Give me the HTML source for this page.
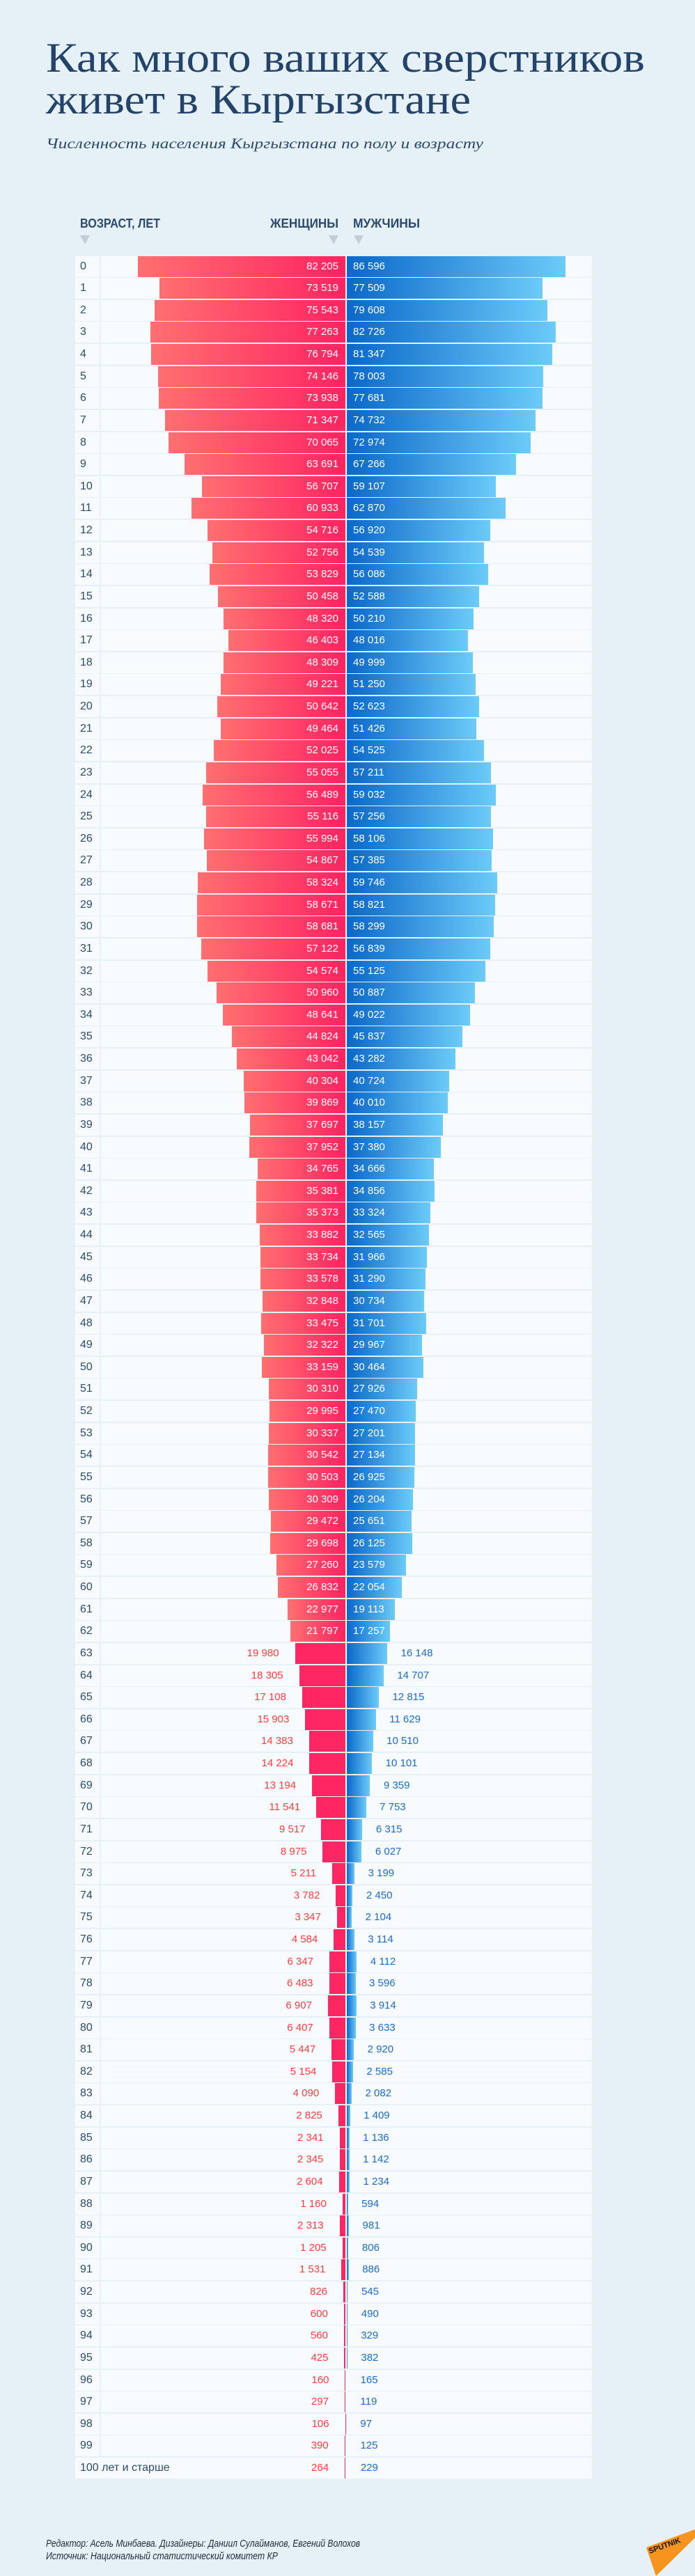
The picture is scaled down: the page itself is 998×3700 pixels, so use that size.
<!DOCTYPE html>
<html><head><meta charset="utf-8"><style>
*{margin:0;padding:0;box-sizing:border-box}
body{width:998px;height:3700px;background:#e6f0f7;position:relative;overflow:hidden;font-family:"Liberation Sans","DejaVu Sans",sans-serif}
svg.h{position:absolute;left:0;top:0}
#rows{position:absolute;left:108px;top:367.5px;width:742px}
.r{position:relative;height:30px;background:#f7fbfe;margin-bottom:1.64px}
.r::before{content:"";position:absolute;left:35px;top:0;bottom:0;width:2px;background:#e8f1f8}
.a{position:absolute;left:7px;top:0;line-height:30px;font-size:16px;color:#2b4a6e;white-space:nowrap}
.fb,.mb{position:absolute;top:0;bottom:0}
.fb{right:354px;width:calc(var(--f)*0.003627px);background:linear-gradient(90deg,#ff6f70,#ff2462)}
.mb{left:389.5px;width:calc(var(--m)*0.003627px);background:linear-gradient(90deg,#0a68c9,#6ccbf8)}
.o .fb{background:#ff2763}
.fl,.ml{position:absolute;top:0;line-height:30px;font-size:15px;font-weight:normal;white-space:nowrap;color:#fff}
.fl{right:364px}
.ml{left:399px}
.o .fl{right:calc(377px + var(--f)*0.003627px);color:#ff3b3b}
.o .ml{left:calc(409px + var(--m)*0.003627px);color:#1a6bcc}
</style></head><body>
<svg class="h" width="998" height="360">
<text x="66" y="103" font-family="Liberation Serif,serif" font-size="60" fill="#23436b" textLength="860" lengthAdjust="spacingAndGlyphs">Как много ваших сверстников</text>
<text x="66" y="163" font-family="Liberation Serif,serif" font-size="60" fill="#23436b" textLength="610" lengthAdjust="spacingAndGlyphs">живет в Кыргызстане</text>
<text x="66" y="213" font-family="Liberation Serif,serif" font-style="italic" font-size="21" fill="#2b4a6e" textLength="628" lengthAdjust="spacingAndGlyphs">Численность населения Кыргызстана по полу и возрасту</text>
<text x="115" y="327" font-family="Liberation Sans,sans-serif" font-weight="bold" font-size="18" fill="#2b4a6e" textLength="115" lengthAdjust="spacingAndGlyphs">ВОЗРАСТ, ЛЕТ</text>
<text x="388" y="327" font-family="Liberation Sans,sans-serif" font-weight="bold" font-size="18" fill="#2b4a6e" textLength="98" lengthAdjust="spacingAndGlyphs">ЖЕНЩИНЫ</text>
<text x="507" y="327" font-family="Liberation Sans,sans-serif" font-weight="bold" font-size="18" fill="#2b4a6e" textLength="96" lengthAdjust="spacingAndGlyphs">МУЖЧИНЫ</text>
<polygon points="115,338 129,338 122,351" fill="#c3ceda"/>
<polygon points="472,338 486,338 479,351" fill="#c3ceda"/>
<polygon points="508,338 522,338 515,351" fill="#c3ceda"/>
</svg>
<div id="rows">
<div class="r" style="--f:82205;--m:86596"><span class="a">0</span><i class="fb"></i><i class="mb"></i><b class="fl">82 205</b><b class="ml">86 596</b></div>
<div class="r" style="--f:73519;--m:77509"><span class="a">1</span><i class="fb"></i><i class="mb"></i><b class="fl">73 519</b><b class="ml">77 509</b></div>
<div class="r" style="--f:75543;--m:79608"><span class="a">2</span><i class="fb"></i><i class="mb"></i><b class="fl">75 543</b><b class="ml">79 608</b></div>
<div class="r" style="--f:77263;--m:82726"><span class="a">3</span><i class="fb"></i><i class="mb"></i><b class="fl">77 263</b><b class="ml">82 726</b></div>
<div class="r" style="--f:76794;--m:81347"><span class="a">4</span><i class="fb"></i><i class="mb"></i><b class="fl">76 794</b><b class="ml">81 347</b></div>
<div class="r" style="--f:74146;--m:78003"><span class="a">5</span><i class="fb"></i><i class="mb"></i><b class="fl">74 146</b><b class="ml">78 003</b></div>
<div class="r" style="--f:73938;--m:77681"><span class="a">6</span><i class="fb"></i><i class="mb"></i><b class="fl">73 938</b><b class="ml">77 681</b></div>
<div class="r" style="--f:71347;--m:74732"><span class="a">7</span><i class="fb"></i><i class="mb"></i><b class="fl">71 347</b><b class="ml">74 732</b></div>
<div class="r" style="--f:70065;--m:72974"><span class="a">8</span><i class="fb"></i><i class="mb"></i><b class="fl">70 065</b><b class="ml">72 974</b></div>
<div class="r" style="--f:63691;--m:67266"><span class="a">9</span><i class="fb"></i><i class="mb"></i><b class="fl">63 691</b><b class="ml">67 266</b></div>
<div class="r" style="--f:56707;--m:59107"><span class="a">10</span><i class="fb"></i><i class="mb"></i><b class="fl">56 707</b><b class="ml">59 107</b></div>
<div class="r" style="--f:60933;--m:62870"><span class="a">11</span><i class="fb"></i><i class="mb"></i><b class="fl">60 933</b><b class="ml">62 870</b></div>
<div class="r" style="--f:54716;--m:56920"><span class="a">12</span><i class="fb"></i><i class="mb"></i><b class="fl">54 716</b><b class="ml">56 920</b></div>
<div class="r" style="--f:52756;--m:54539"><span class="a">13</span><i class="fb"></i><i class="mb"></i><b class="fl">52 756</b><b class="ml">54 539</b></div>
<div class="r" style="--f:53829;--m:56086"><span class="a">14</span><i class="fb"></i><i class="mb"></i><b class="fl">53 829</b><b class="ml">56 086</b></div>
<div class="r" style="--f:50458;--m:52588"><span class="a">15</span><i class="fb"></i><i class="mb"></i><b class="fl">50 458</b><b class="ml">52 588</b></div>
<div class="r" style="--f:48320;--m:50210"><span class="a">16</span><i class="fb"></i><i class="mb"></i><b class="fl">48 320</b><b class="ml">50 210</b></div>
<div class="r" style="--f:46403;--m:48016"><span class="a">17</span><i class="fb"></i><i class="mb"></i><b class="fl">46 403</b><b class="ml">48 016</b></div>
<div class="r" style="--f:48309;--m:49999"><span class="a">18</span><i class="fb"></i><i class="mb"></i><b class="fl">48 309</b><b class="ml">49 999</b></div>
<div class="r" style="--f:49221;--m:51250"><span class="a">19</span><i class="fb"></i><i class="mb"></i><b class="fl">49 221</b><b class="ml">51 250</b></div>
<div class="r" style="--f:50642;--m:52623"><span class="a">20</span><i class="fb"></i><i class="mb"></i><b class="fl">50 642</b><b class="ml">52 623</b></div>
<div class="r" style="--f:49464;--m:51426"><span class="a">21</span><i class="fb"></i><i class="mb"></i><b class="fl">49 464</b><b class="ml">51 426</b></div>
<div class="r" style="--f:52025;--m:54525"><span class="a">22</span><i class="fb"></i><i class="mb"></i><b class="fl">52 025</b><b class="ml">54 525</b></div>
<div class="r" style="--f:55055;--m:57211"><span class="a">23</span><i class="fb"></i><i class="mb"></i><b class="fl">55 055</b><b class="ml">57 211</b></div>
<div class="r" style="--f:56489;--m:59032"><span class="a">24</span><i class="fb"></i><i class="mb"></i><b class="fl">56 489</b><b class="ml">59 032</b></div>
<div class="r" style="--f:55116;--m:57256"><span class="a">25</span><i class="fb"></i><i class="mb"></i><b class="fl">55 116</b><b class="ml">57 256</b></div>
<div class="r" style="--f:55994;--m:58106"><span class="a">26</span><i class="fb"></i><i class="mb"></i><b class="fl">55 994</b><b class="ml">58 106</b></div>
<div class="r" style="--f:54867;--m:57385"><span class="a">27</span><i class="fb"></i><i class="mb"></i><b class="fl">54 867</b><b class="ml">57 385</b></div>
<div class="r" style="--f:58324;--m:59746"><span class="a">28</span><i class="fb"></i><i class="mb"></i><b class="fl">58 324</b><b class="ml">59 746</b></div>
<div class="r" style="--f:58671;--m:58821"><span class="a">29</span><i class="fb"></i><i class="mb"></i><b class="fl">58 671</b><b class="ml">58 821</b></div>
<div class="r" style="--f:58681;--m:58299"><span class="a">30</span><i class="fb"></i><i class="mb"></i><b class="fl">58 681</b><b class="ml">58 299</b></div>
<div class="r" style="--f:57122;--m:56839"><span class="a">31</span><i class="fb"></i><i class="mb"></i><b class="fl">57 122</b><b class="ml">56 839</b></div>
<div class="r" style="--f:54574;--m:55125"><span class="a">32</span><i class="fb"></i><i class="mb"></i><b class="fl">54 574</b><b class="ml">55 125</b></div>
<div class="r" style="--f:50960;--m:50887"><span class="a">33</span><i class="fb"></i><i class="mb"></i><b class="fl">50 960</b><b class="ml">50 887</b></div>
<div class="r" style="--f:48641;--m:49022"><span class="a">34</span><i class="fb"></i><i class="mb"></i><b class="fl">48 641</b><b class="ml">49 022</b></div>
<div class="r" style="--f:44824;--m:45837"><span class="a">35</span><i class="fb"></i><i class="mb"></i><b class="fl">44 824</b><b class="ml">45 837</b></div>
<div class="r" style="--f:43042;--m:43282"><span class="a">36</span><i class="fb"></i><i class="mb"></i><b class="fl">43 042</b><b class="ml">43 282</b></div>
<div class="r" style="--f:40304;--m:40724"><span class="a">37</span><i class="fb"></i><i class="mb"></i><b class="fl">40 304</b><b class="ml">40 724</b></div>
<div class="r" style="--f:39869;--m:40010"><span class="a">38</span><i class="fb"></i><i class="mb"></i><b class="fl">39 869</b><b class="ml">40 010</b></div>
<div class="r" style="--f:37697;--m:38157"><span class="a">39</span><i class="fb"></i><i class="mb"></i><b class="fl">37 697</b><b class="ml">38 157</b></div>
<div class="r" style="--f:37952;--m:37380"><span class="a">40</span><i class="fb"></i><i class="mb"></i><b class="fl">37 952</b><b class="ml">37 380</b></div>
<div class="r" style="--f:34765;--m:34666"><span class="a">41</span><i class="fb"></i><i class="mb"></i><b class="fl">34 765</b><b class="ml">34 666</b></div>
<div class="r" style="--f:35381;--m:34856"><span class="a">42</span><i class="fb"></i><i class="mb"></i><b class="fl">35 381</b><b class="ml">34 856</b></div>
<div class="r" style="--f:35373;--m:33324"><span class="a">43</span><i class="fb"></i><i class="mb"></i><b class="fl">35 373</b><b class="ml">33 324</b></div>
<div class="r" style="--f:33882;--m:32565"><span class="a">44</span><i class="fb"></i><i class="mb"></i><b class="fl">33 882</b><b class="ml">32 565</b></div>
<div class="r" style="--f:33734;--m:31966"><span class="a">45</span><i class="fb"></i><i class="mb"></i><b class="fl">33 734</b><b class="ml">31 966</b></div>
<div class="r" style="--f:33578;--m:31290"><span class="a">46</span><i class="fb"></i><i class="mb"></i><b class="fl">33 578</b><b class="ml">31 290</b></div>
<div class="r" style="--f:32848;--m:30734"><span class="a">47</span><i class="fb"></i><i class="mb"></i><b class="fl">32 848</b><b class="ml">30 734</b></div>
<div class="r" style="--f:33475;--m:31701"><span class="a">48</span><i class="fb"></i><i class="mb"></i><b class="fl">33 475</b><b class="ml">31 701</b></div>
<div class="r" style="--f:32322;--m:29967"><span class="a">49</span><i class="fb"></i><i class="mb"></i><b class="fl">32 322</b><b class="ml">29 967</b></div>
<div class="r" style="--f:33159;--m:30464"><span class="a">50</span><i class="fb"></i><i class="mb"></i><b class="fl">33 159</b><b class="ml">30 464</b></div>
<div class="r" style="--f:30310;--m:27926"><span class="a">51</span><i class="fb"></i><i class="mb"></i><b class="fl">30 310</b><b class="ml">27 926</b></div>
<div class="r" style="--f:29995;--m:27470"><span class="a">52</span><i class="fb"></i><i class="mb"></i><b class="fl">29 995</b><b class="ml">27 470</b></div>
<div class="r" style="--f:30337;--m:27201"><span class="a">53</span><i class="fb"></i><i class="mb"></i><b class="fl">30 337</b><b class="ml">27 201</b></div>
<div class="r" style="--f:30542;--m:27134"><span class="a">54</span><i class="fb"></i><i class="mb"></i><b class="fl">30 542</b><b class="ml">27 134</b></div>
<div class="r" style="--f:30503;--m:26925"><span class="a">55</span><i class="fb"></i><i class="mb"></i><b class="fl">30 503</b><b class="ml">26 925</b></div>
<div class="r" style="--f:30309;--m:26204"><span class="a">56</span><i class="fb"></i><i class="mb"></i><b class="fl">30 309</b><b class="ml">26 204</b></div>
<div class="r" style="--f:29472;--m:25651"><span class="a">57</span><i class="fb"></i><i class="mb"></i><b class="fl">29 472</b><b class="ml">25 651</b></div>
<div class="r" style="--f:29698;--m:26125"><span class="a">58</span><i class="fb"></i><i class="mb"></i><b class="fl">29 698</b><b class="ml">26 125</b></div>
<div class="r" style="--f:27260;--m:23579"><span class="a">59</span><i class="fb"></i><i class="mb"></i><b class="fl">27 260</b><b class="ml">23 579</b></div>
<div class="r" style="--f:26832;--m:22054"><span class="a">60</span><i class="fb"></i><i class="mb"></i><b class="fl">26 832</b><b class="ml">22 054</b></div>
<div class="r" style="--f:22977;--m:19113"><span class="a">61</span><i class="fb"></i><i class="mb"></i><b class="fl">22 977</b><b class="ml">19 113</b></div>
<div class="r" style="--f:21797;--m:17257"><span class="a">62</span><i class="fb"></i><i class="mb"></i><b class="fl">21 797</b><b class="ml">17 257</b></div>
<div class="r o" style="--f:19980;--m:16148"><span class="a">63</span><i class="fb"></i><i class="mb"></i><b class="fl">19 980</b><b class="ml">16 148</b></div>
<div class="r o" style="--f:18305;--m:14707"><span class="a">64</span><i class="fb"></i><i class="mb"></i><b class="fl">18 305</b><b class="ml">14 707</b></div>
<div class="r o" style="--f:17108;--m:12815"><span class="a">65</span><i class="fb"></i><i class="mb"></i><b class="fl">17 108</b><b class="ml">12 815</b></div>
<div class="r o" style="--f:15903;--m:11629"><span class="a">66</span><i class="fb"></i><i class="mb"></i><b class="fl">15 903</b><b class="ml">11 629</b></div>
<div class="r o" style="--f:14383;--m:10510"><span class="a">67</span><i class="fb"></i><i class="mb"></i><b class="fl">14 383</b><b class="ml">10 510</b></div>
<div class="r o" style="--f:14224;--m:10101"><span class="a">68</span><i class="fb"></i><i class="mb"></i><b class="fl">14 224</b><b class="ml">10 101</b></div>
<div class="r o" style="--f:13194;--m:9359"><span class="a">69</span><i class="fb"></i><i class="mb"></i><b class="fl">13 194</b><b class="ml">9 359</b></div>
<div class="r o" style="--f:11541;--m:7753"><span class="a">70</span><i class="fb"></i><i class="mb"></i><b class="fl">11 541</b><b class="ml">7 753</b></div>
<div class="r o" style="--f:9517;--m:6315"><span class="a">71</span><i class="fb"></i><i class="mb"></i><b class="fl">9 517</b><b class="ml">6 315</b></div>
<div class="r o" style="--f:8975;--m:6027"><span class="a">72</span><i class="fb"></i><i class="mb"></i><b class="fl">8 975</b><b class="ml">6 027</b></div>
<div class="r o" style="--f:5211;--m:3199"><span class="a">73</span><i class="fb"></i><i class="mb"></i><b class="fl">5 211</b><b class="ml">3 199</b></div>
<div class="r o" style="--f:3782;--m:2450"><span class="a">74</span><i class="fb"></i><i class="mb"></i><b class="fl">3 782</b><b class="ml">2 450</b></div>
<div class="r o" style="--f:3347;--m:2104"><span class="a">75</span><i class="fb"></i><i class="mb"></i><b class="fl">3 347</b><b class="ml">2 104</b></div>
<div class="r o" style="--f:4584;--m:3114"><span class="a">76</span><i class="fb"></i><i class="mb"></i><b class="fl">4 584</b><b class="ml">3 114</b></div>
<div class="r o" style="--f:6347;--m:4112"><span class="a">77</span><i class="fb"></i><i class="mb"></i><b class="fl">6 347</b><b class="ml">4 112</b></div>
<div class="r o" style="--f:6483;--m:3596"><span class="a">78</span><i class="fb"></i><i class="mb"></i><b class="fl">6 483</b><b class="ml">3 596</b></div>
<div class="r o" style="--f:6907;--m:3914"><span class="a">79</span><i class="fb"></i><i class="mb"></i><b class="fl">6 907</b><b class="ml">3 914</b></div>
<div class="r o" style="--f:6407;--m:3633"><span class="a">80</span><i class="fb"></i><i class="mb"></i><b class="fl">6 407</b><b class="ml">3 633</b></div>
<div class="r o" style="--f:5447;--m:2920"><span class="a">81</span><i class="fb"></i><i class="mb"></i><b class="fl">5 447</b><b class="ml">2 920</b></div>
<div class="r o" style="--f:5154;--m:2585"><span class="a">82</span><i class="fb"></i><i class="mb"></i><b class="fl">5 154</b><b class="ml">2 585</b></div>
<div class="r o" style="--f:4090;--m:2082"><span class="a">83</span><i class="fb"></i><i class="mb"></i><b class="fl">4 090</b><b class="ml">2 082</b></div>
<div class="r o" style="--f:2825;--m:1409"><span class="a">84</span><i class="fb"></i><i class="mb"></i><b class="fl">2 825</b><b class="ml">1 409</b></div>
<div class="r o" style="--f:2341;--m:1136"><span class="a">85</span><i class="fb"></i><i class="mb"></i><b class="fl">2 341</b><b class="ml">1 136</b></div>
<div class="r o" style="--f:2345;--m:1142"><span class="a">86</span><i class="fb"></i><i class="mb"></i><b class="fl">2 345</b><b class="ml">1 142</b></div>
<div class="r o" style="--f:2604;--m:1234"><span class="a">87</span><i class="fb"></i><i class="mb"></i><b class="fl">2 604</b><b class="ml">1 234</b></div>
<div class="r o" style="--f:1160;--m:594"><span class="a">88</span><i class="fb"></i><i class="mb"></i><b class="fl">1 160</b><b class="ml">594</b></div>
<div class="r o" style="--f:2313;--m:981"><span class="a">89</span><i class="fb"></i><i class="mb"></i><b class="fl">2 313</b><b class="ml">981</b></div>
<div class="r o" style="--f:1205;--m:806"><span class="a">90</span><i class="fb"></i><i class="mb"></i><b class="fl">1 205</b><b class="ml">806</b></div>
<div class="r o" style="--f:1531;--m:886"><span class="a">91</span><i class="fb"></i><i class="mb"></i><b class="fl">1 531</b><b class="ml">886</b></div>
<div class="r o" style="--f:826;--m:545"><span class="a">92</span><i class="fb"></i><i class="mb"></i><b class="fl">826</b><b class="ml">545</b></div>
<div class="r o" style="--f:600;--m:490"><span class="a">93</span><i class="fb"></i><i class="mb"></i><b class="fl">600</b><b class="ml">490</b></div>
<div class="r o" style="--f:560;--m:329"><span class="a">94</span><i class="fb"></i><i class="mb"></i><b class="fl">560</b><b class="ml">329</b></div>
<div class="r o" style="--f:425;--m:382"><span class="a">95</span><i class="fb"></i><i class="mb"></i><b class="fl">425</b><b class="ml">382</b></div>
<div class="r o" style="--f:160;--m:165"><span class="a">96</span><i class="fb"></i><i class="mb"></i><b class="fl">160</b><b class="ml">165</b></div>
<div class="r o" style="--f:297;--m:119"><span class="a">97</span><i class="fb"></i><i class="mb"></i><b class="fl">297</b><b class="ml">119</b></div>
<div class="r o" style="--f:106;--m:97"><span class="a">98</span><i class="fb"></i><i class="mb"></i><b class="fl">106</b><b class="ml">97</b></div>
<div class="r o" style="--f:390;--m:125"><span class="a">99</span><i class="fb"></i><i class="mb"></i><b class="fl">390</b><b class="ml">125</b></div>
<div class="r o" style="--f:264;--m:229"><span class="a" style="background:#f7fbfe;padding-right:4px">100 лет и старше</span><i class="fb"></i><i class="mb"></i><b class="fl">264</b><b class="ml">229</b></div>
</div>
<svg class="h" width="998" height="3700" style="pointer-events:none">
<text x="66" y="3658" font-family="Liberation Sans,sans-serif" font-style="italic" font-size="15" fill="#1d2b3a" textLength="451" lengthAdjust="spacingAndGlyphs">Редактор: Асель Минбаева. Дизайнеры: Даниил Сулайманов, Евгений Волохов</text>
<text x="66" y="3676" font-family="Liberation Sans,sans-serif" font-style="italic" font-size="15" fill="#1d2b3a" textLength="333" lengthAdjust="spacingAndGlyphs">Источник: Национальный статистический комитет КР</text>
<polygon points="928,3659 998,3633 998,3645 942,3700" fill="#f7941d"/>
<text x="933" y="3668" font-family="Liberation Sans,sans-serif" font-weight="bold" font-size="11" fill="#111" transform="rotate(-20 933 3668)" textLength="48" lengthAdjust="spacingAndGlyphs">SPUTNIK</text>
</svg>
</body></html>
